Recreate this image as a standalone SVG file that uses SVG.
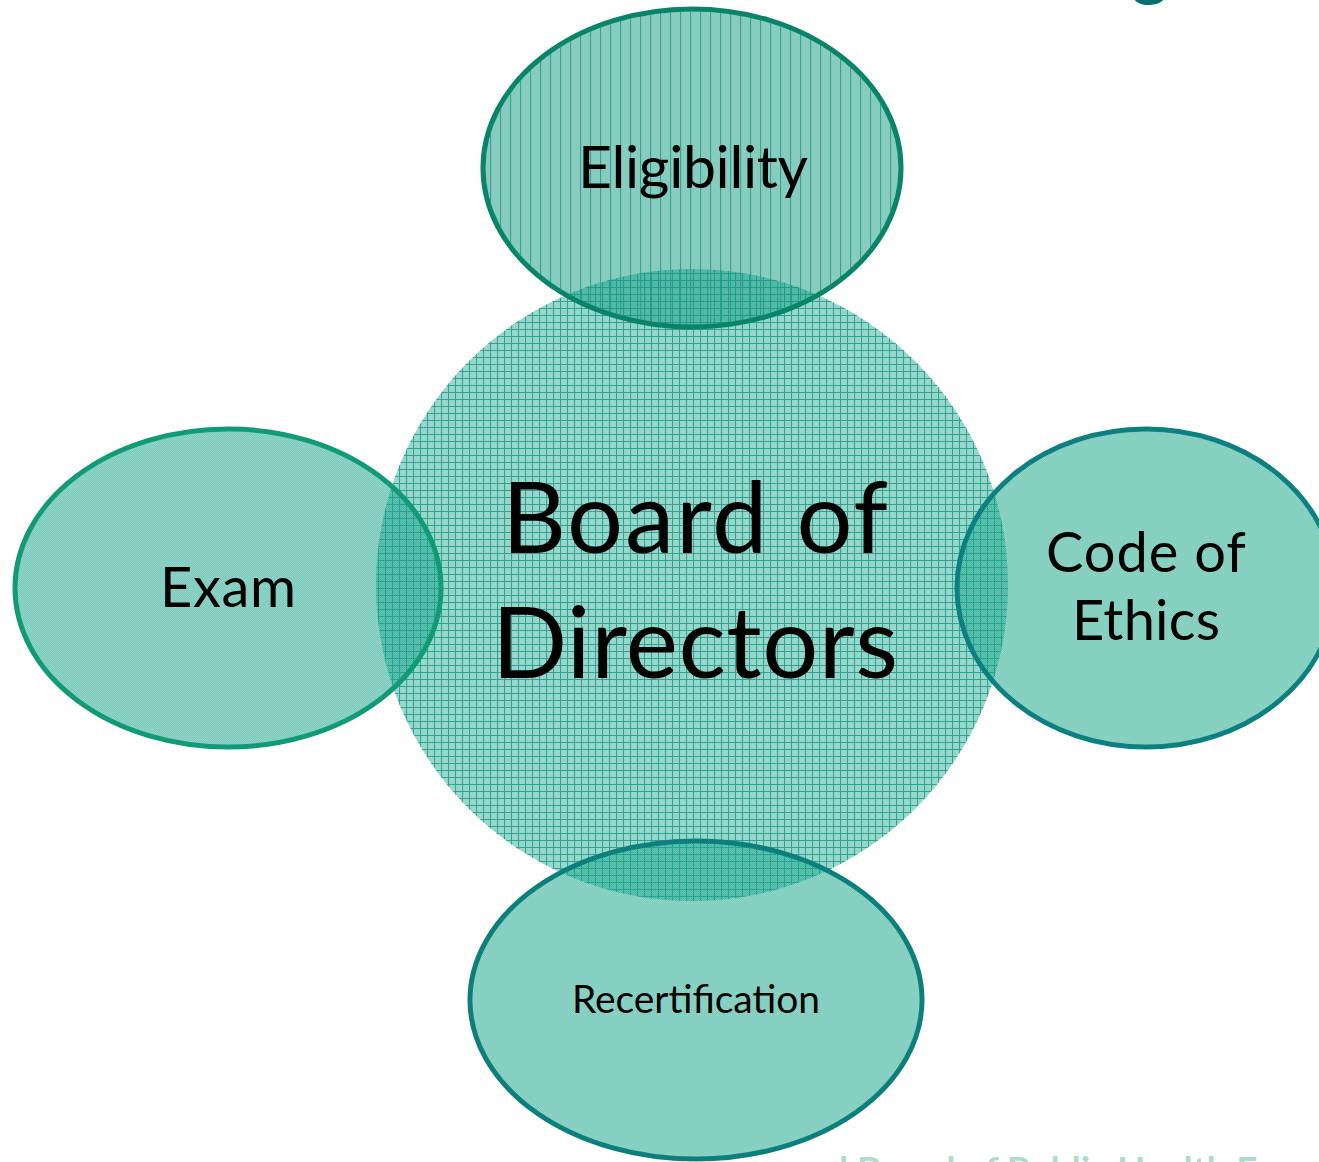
<svg xmlns="http://www.w3.org/2000/svg" width="1319" height="1162" viewBox="0 0 1319 1162">
<style>
.lbl{font-family:Lato,"Open Sans","Liberation Sans",sans-serif;fill:#000;text-anchor:middle}
.sh{fill-opacity:0.5;stroke-width:5}
</style>
<defs>
<pattern id="grid" width="7" height="7" patternUnits="userSpaceOnUse">
<path d="M0 0.5H7M0.5 0V7" stroke="#1f9a86" stroke-width="1.1" fill="none"/>
</pattern>
<pattern id="vl" width="10" height="10" patternUnits="userSpaceOnUse">
<path d="M0.5 0V10" stroke="#1d9a86" stroke-width="1.2" fill="none"/>
</pattern>
<pattern id="dot" width="2" height="2" patternUnits="userSpaceOnUse">
<rect width="1" height="1" fill="#ffffff" fill-opacity="0.12"/>
<rect x="1" y="1" width="1" height="1" fill="#ffffff" fill-opacity="0.12"/>
</pattern>
</defs>
<rect width="1319" height="1162" fill="#fff"/>
<text x="1150" y="-9" font-family="Lato,'Liberation Sans',sans-serif" font-weight="bold" font-size="72" fill="#00706c" text-anchor="middle">g</text>
<g id="board">
<circle cx="692" cy="585" r="316" fill="#1aa68e" fill-opacity="0.46"/>
<circle cx="692" cy="585" r="316" fill="url(#grid)" opacity="0.85"/>
</g>
<g id="eligibility">
<ellipse class="sh" cx="692" cy="168" rx="209" ry="159" fill="#0f9a80" stroke="#0a8468"/>
<ellipse cx="692" cy="168" rx="207" ry="157" fill="url(#vl)" opacity="0.8"/>
<text class="lbl" x="693" y="188" font-size="59" textLength="230">Eligibility</text>
</g>
<g id="exam">
<ellipse class="sh" cx="228" cy="588" rx="213" ry="159" fill="#009a80" stroke="#109a76"/>
<ellipse cx="228" cy="588" rx="211" ry="157" fill="url(#dot)"/>
<text class="lbl" x="228" y="607" font-size="56" textLength="136">Exam</text>
</g>
<g id="ethics">
<ellipse class="sh" cx="1146" cy="588" rx="189" ry="159" fill="#009c7c" stroke="#0c8080"/>
<ellipse cx="1146" cy="588" rx="187" ry="157" fill="url(#dot)"/>
<text class="lbl" x="1146" y="572" font-size="56" textLength="200">Code of</text>
<text class="lbl" x="1146" y="640" font-size="56" textLength="148">Ethics</text>
</g>
<g id="recertification">
<ellipse class="sh" cx="696" cy="1000" rx="226" ry="159" fill="#009c80" stroke="#0c7f7c"/>
<ellipse cx="696" cy="1000" rx="224" ry="157" fill="url(#dot)"/>
<text class="lbl" x="696" y="1013" font-size="39" textLength="248">Recertification</text>
</g>
<g id="board-label">
<text class="lbl" x="695" y="553" font-size="99" textLength="386">Board of</text>
<text class="lbl" x="695" y="678" font-size="99" textLength="406">Directors</text>
</g>
<g id="connectors"></g>
<text x="778" y="1183" font-family="Lato,'Liberation Sans',sans-serif" font-weight="bold" font-size="37" fill="#5fbfa3" fill-opacity="0.55">onal Board of Public Health Examiners</text>
</svg>
